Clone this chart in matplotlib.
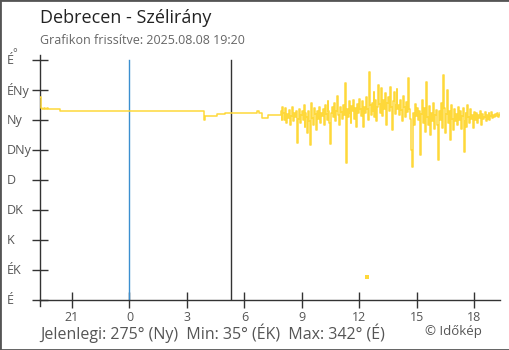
import numpy as np
import matplotlib.pyplot as plt
from matplotlib.patches import Rectangle

plt.rcParams['font.family'] = ['Open Sans', 'DejaVu Sans']

# wind direction in degrees, hours counted from midnight (negative = previous evening)
calm_hours = [-4.667, -4.63, -4.55, -4.45, -4.4, -4.3, -4.25, -3.63,
              3.9, 3.95, 4.55, 5.0, 6.65, 6.75, 6.93, 7.25]
calm_dirs = [304, 288, 286, 288, 286, 288, 286, 284,
             270, 276, 279, 281, 283, 281, 273, 277]

# 3 minute readings from 07:50 to 19:20
gusty_start = 7 + 50 / 60
gusty_dirs = [
    277, 284, 270, 289,
    281, 270, 288, 266, 279, 273, 285, 262, 276, 290, 268, 280, 274, 283, 235, 271, 287, 265, 278, 284,
    270, 293, 259, 281, 275, 250, 284, 268, 232, 296, 273, 262, 288, 279, 255, 283, 271, 290, 266, 280,
    276, 286, 262, 292, 279, 270, 298, 283, 266, 234, 281, 289, 274, 295, 268, 284, 306, 277, 263, 290,
    282, 271, 293, 278, 325, 205, 286, 274, 298, 280, 266, 291, 283, 300, 272, 288, 259, 294, 281, 302,
    286, 276, 299, 259, 290, 281, 305, 287, 270, 342, 292, 278, 296, 284, 312, 275, 300, 268, 289, 322,
    294, 281, 318, 276, 300, 287, 310, 262, 296, 305, 283, 320, 290, 255, 298, 312, 279, 293, 316, 286,
    292, 278, 300, 285, 268, 306, 289, 275, 297, 282, 333, 286, 271, 225, 199, 280, 262, 294, 276, 288,
    270, 284, 258, 217, 279, 300, 265, 288, 252, 327, 274, 262, 291, 248, 281, 269, 296, 256, 277, 285,
    262, 210, 283, 270, 296, 258, 276, 337, 288, 250, 279, 315, 266, 284, 240, 292, 272, 255, 287, 268,
    279, 262, 290, 270, 283, 256, 276, 288, 222, 268, 281, 260, 292, 274, 265, 286, 271, 278, 258, 282,
    270, 281, 266, 277, 273, 284, 262, 279, 271, 275, 282, 268, 277, 272, 280, 270, 276, 282, 273, 278,
    274, 279, 276, 280, 275, 278, 281,
]

# lone reading
single_hour = 12.4
single_dir = 35

midnight = 0
sunrise = 5.3

dir_ticks = [0, 45, 90, 135, 180, 225, 270, 315, 360]
dir_labels = ['É', 'ÉK', 'K', 'DK', 'D', 'DNy', 'Ny', 'ÉNy', 'É']
hour_ticks = [-3, 0, 3, 6, 9, 12, 15, 18]
hour_labels = ['21', '0', '3', '6', '9', '12', '15', '18']

t_start, t_end = -4.667, 19.333

gusty_hours = gusty_start + np.arange(len(gusty_dirs)) * 3 / 60
hours = np.concatenate([calm_hours, gusty_hours])
dirs = np.concatenate([calm_dirs, gusty_dirs])

W, H = 510, 350
fig = plt.figure(figsize=(W / 100, H / 100), dpi=100)
ax = fig.add_axes([40 / W, 50 / H, 460 / W, 245 / H])

yellow = '#fed83a'
ax.plot(hours, dirs, drawstyle='steps-post', color=yellow, lw=1.1, zorder=3)
ax.plot([single_hour], [single_dir], 's', color=yellow, ms=2.5, mew=0, zorder=3)

top = 360 / 367.5
ax.axvline(midnight, ymax=top, color='#3b8fd0', lw=1, zorder=2)
ax.axvline(sunrise, ymax=top, color='#333333', lw=1, zorder=2)

ax.set_xlim(t_start, t_end)
ax.set_ylim(0, 367.5)

for s in ['top', 'right']:
    ax.spines[s].set_visible(False)
for s in ['left', 'bottom']:
    ax.spines[s].set_color('#333333')
    ax.spines[s].set_linewidth(1)
# left axis runs a little below the time axis
ax.plot([0, 0], [0, -6 / 245], transform=ax.transAxes, color='#333333', lw=1,
        clip_on=False)

ax.set_yticks(dir_ticks)
ax.set_yticklabels([])
ax.set_xticks(hour_ticks)
ax.set_xticklabels(hour_labels)
ax.tick_params(axis='both', direction='inout', length=12, width=1, color='#333333')
ax.tick_params(axis='x', labelsize=9, labelcolor='#555555', pad=2)

# direction names, left aligned at the image edge
for v, lab in zip(dir_ticks, dir_labels):
    ax.text(-33 / 460, v, lab, transform=ax.get_yaxis_transform(),
            ha='left', va='center', fontsize=9, color='#555555')
fig.text(12 / W, 1 - 56 / H, '°', fontsize=8, color='#555555', ha='left', va='baseline')

fig.text(40 / W, 1 - 18 / H, 'Debrecen - Szélirány', fontsize=13, color='#222222',
         ha='left', va='center')
fig.text(40 / W, 1 - 41 / H, 'Grafikon frissítve: 2025.08.08 19:20', fontsize=9,
         color='#666666', ha='left', va='center')
fig.text(40 / W, 1 - 333 / H, 'Jelenlegi: 275° (Ny)  Min: 35° (ÉK)  Max: 342° (É)',
         fontsize=11.5, color='#555555', ha='left', va='center')
fig.text(482 / W, 1 - 331 / H, '© Időkép', fontsize=9.5, color='#555555',
         ha='right', va='center')

fig.patches.append(Rectangle((0, 0), 1, 1, transform=fig.transFigure, fill=False,
                             edgecolor='#555555', lw=2))

fig.savefig('out.png', dpi=100)
